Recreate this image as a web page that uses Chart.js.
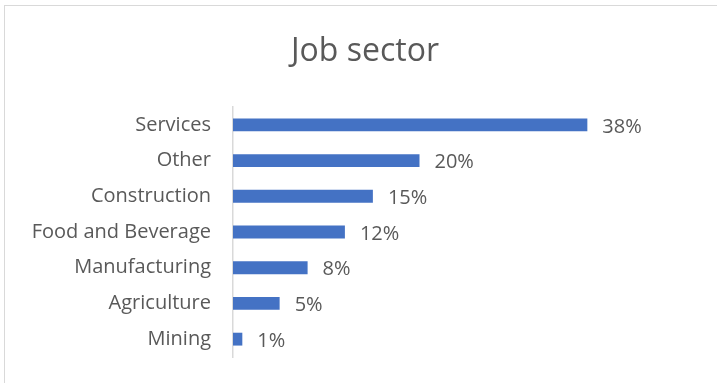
<!DOCTYPE html>
<html>
<head>
<meta charset="utf-8">
<script src="https://cdn.jsdelivr.net/npm/chart.js@4"></script>
<style>
  html, body { margin: 0; padding: 0; background: #fff; }
  #wrap { position: relative; width: 717px; height: 383px; }
  #frame { position: absolute; left: 4px; top: 5px; width: 760px; height: 400px;
           border: 1px solid #d9d9d9; box-sizing: border-box; pointer-events: none; }
</style>
</head>
<body>
<div id="wrap">
  <canvas id="sectorChart" width="717" height="383"></canvas>
  <div id="frame"></div>
</div>
<script>
const sectors = ['Services', 'Other', 'Construction', 'Food and Beverage', 'Manufacturing', 'Agriculture', 'Mining'];
const shares = [38, 20, 15, 12, 8, 5, 1];

const textColor = '#595959';
const font = '"Open Sans", sans-serif';

// chart heading, centred on the whole canvas rather than the plot area
const heading = {
  id: 'heading',
  afterDraw(chart) {
    const ctx = chart.ctx;
    ctx.save();
    ctx.font = '32px ' + font;
    ctx.fillStyle = textColor;
    ctx.textAlign = 'center';
    ctx.textBaseline = 'middle';
    ctx.fillText('Job sector', 365, 52);
    ctx.restore();
  }
};

// writes the percentage just past the end of each bar
const valueLabels = {
  id: 'valueLabels',
  afterDatasetsDraw(chart) {
    const ctx = chart.ctx;
    const meta = chart.getDatasetMeta(0);
    ctx.save();
    ctx.font = '20px ' + font;
    ctx.fillStyle = textColor;
    ctx.textAlign = 'left';
    ctx.textBaseline = 'middle';
    meta.data.forEach((bar, i) => {
      ctx.fillText(shares[i] + '%', bar.x + 15, bar.y + 2);
    });
    ctx.restore();
  }
};

new Chart(document.getElementById('sectorChart'), {
  type: 'bar',
  data: {
    labels: sectors,
    datasets: [{
      data: shares,
      backgroundColor: '#4472c4',
      barPercentage: 0.36,
      categoryPercentage: 1
    }]
  },
  options: {
    indexAxis: 'y',
    responsive: false,
    animation: false,
    layout: { padding: { left: 0, right: 111, top: 107, bottom: 21 } },
    plugins: {
      legend: { display: false },
      tooltip: { enabled: false },
      title: { display: false }
    },
    scales: {
      x: { display: false, min: 0, max: 40 },
      y: {
        grid: { display: false },
        border: { display: true, color: '#d9d9d9', width: 1.5 },
        ticks: { color: textColor, font: { family: font, size: 20 }, padding: 14 },
        afterFit(scale) { scale.width = 233; }
      }
    }
  },
  plugins: [heading, valueLabels]
});
</script>
</body>
</html>
